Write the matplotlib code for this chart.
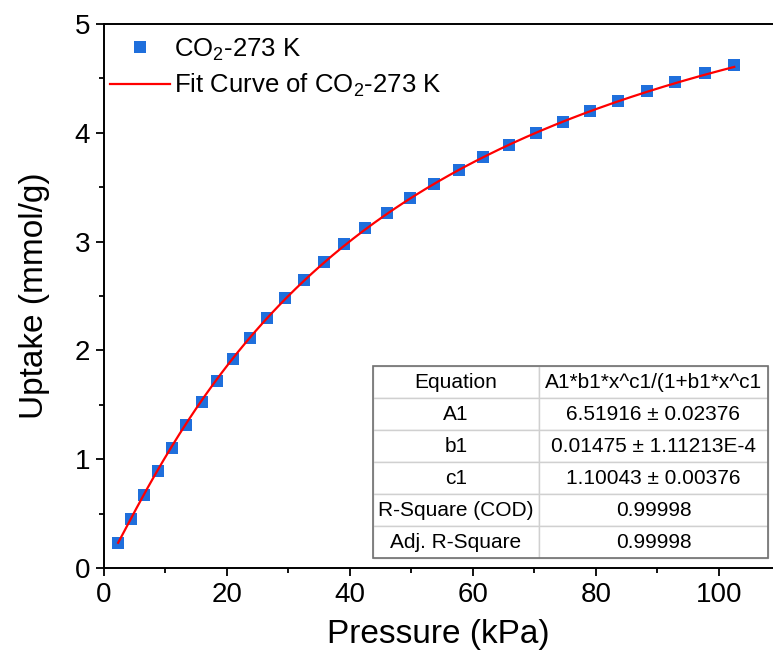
import numpy as np
import matplotlib
matplotlib.use('Agg')
import matplotlib.pyplot as plt
from matplotlib.ticker import MultipleLocator
from matplotlib.patches import Rectangle

plt.rcParams['font.family'] = ['Liberation Sans', 'DejaVu Sans']
plt.rcParams['mathtext.fontset'] = 'custom'
plt.rcParams['mathtext.rm'] = 'Liberation Sans'
plt.rcParams['mathtext.it'] = 'Liberation Sans'

pressure = [2.3, 4.35, 6.55, 8.75, 11.0, 13.4, 15.9, 18.4, 21.0, 23.7,
            26.5, 29.5, 32.5, 35.7, 39.1, 42.5, 46.1, 49.8, 53.6, 57.7,
            61.7, 65.8, 70.2, 74.6, 79.1, 83.6, 88.3, 92.9, 97.7, 102.5]
uptake = [0.227, 0.448, 0.672, 0.887, 1.10, 1.317, 1.53, 1.72, 1.925, 2.118,
          2.301, 2.48, 2.648, 2.817, 2.974, 3.124, 3.26, 3.40, 3.53, 3.658,
          3.775, 3.889, 3.996, 4.098, 4.199, 4.291, 4.38, 4.466, 4.546, 4.625]

# Fit parameters shown in the table (Sips-type model)
A1, b1, c1 = 6.51916, 0.01475, 1.10043

table_labels = ['Equation', 'A1', 'b1', 'c1', 'R-Square (COD)', 'Adj. R-Square']
table_values = ['A1*b1*x^c1/(1+b1*x^c1', '6.51916 ± 0.02376', '0.01475 ± 1.11213E-4',
                '1.10043 ± 0.00376', '0.99998', '0.99998']

fig = plt.figure(figsize=(7.73, 6.66), dpi=100)
ax = fig.add_axes([104 / 773, 98 / 666, 669 / 773, 544 / 666])

ax.plot(pressure, uptake, 's', color='#1f6fdc', markersize=8.5, markeredgewidth=0,
        label='CO$_\\mathregular{2}$-273 K', zorder=3)
xf = np.linspace(min(pressure), max(pressure), 300)
yf = A1 * b1 * xf ** c1 / (1 + b1 * xf ** c1)
ax.plot(xf, yf, '-', color='#ff0000', lw=1.6,
        label='Fit Curve of CO$_\\mathregular{2}$-273 K', zorder=4)

ax.set_xlim(0, 108.8)
ax.set_ylim(0, 5)
ax.xaxis.set_major_locator(MultipleLocator(20))
ax.xaxis.set_minor_locator(MultipleLocator(10))
ax.yaxis.set_major_locator(MultipleLocator(1))
ax.yaxis.set_minor_locator(MultipleLocator(0.5))
ax.tick_params(which='both', direction='out', width=1.3, labelsize=20,
               top=False, right=False)
ax.tick_params(which='major', length=6, pad=4)
ax.tick_params(which='minor', length=3.5)
for side in ['left', 'bottom', 'top']:
    ax.spines[side].set_linewidth(1.4)
ax.spines['right'].set_visible(False)

ax.set_xlabel('Pressure (kPa)', fontsize=24, labelpad=8)
ax.set_ylabel('Uptake (mmol/g)', fontsize=24, labelpad=18)

leg = ax.legend(loc='upper left', bbox_to_anchor=(0.0, 0.989), frameon=False,
                fontsize=18.5, handlelength=2.3, handletextpad=0.18,
                labelspacing=0.35, borderaxespad=0.0, borderpad=0.25)

# Fit result table
x0, y0, w, h = 269 / 669, 10 / 544, 395 / 669, 192 / 544
tbl = ax.table(cellText=[[a, b] for a, b in zip(table_labels, table_values)],
               cellLoc='center', colWidths=[166 / 395, 229 / 395],
               bbox=[x0, y0, w, h], zorder=5)
tbl.auto_set_font_size(False)
tbl.set_fontsize(15)
for cell in tbl.get_celld().values():
    cell.set_edgecolor('#d0d0d0')
    cell.set_linewidth(1.0)
    cell.set_facecolor('white')
ax.add_patch(Rectangle((x0, y0), w, h, transform=ax.transAxes, fill=False,
                       edgecolor='#707070', lw=1.2, zorder=6, clip_on=False))

fig.savefig('out.png', dpi=100)
